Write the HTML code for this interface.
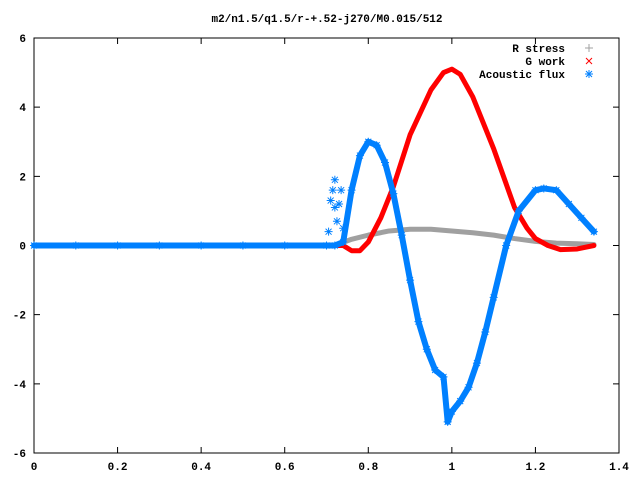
<!DOCTYPE html>
<html><head><meta charset="utf-8"><style>
body{margin:0;background:#fff}
svg{display:block;font-family:"Liberation Mono",monospace;font-size:11px;font-weight:bold}
</style></head><body>
<svg id="chart" width="640" height="480">
<text x="327" y="22" text-anchor="middle">m2/n1.5/q1.5/r-+.52-j270/M0.015/512</text>
<g id="axes"></g>
<g id="series"></g>
<g>
<text x="565" y="52" text-anchor="end">R stress</text>
<text x="565" y="65" text-anchor="end">G work</text>
<text x="565" y="78" text-anchor="end">Acoustic flux</text>
<path d="M589 44v8M585 48h8" stroke="#a0a0a0"/>
<path d="M586 58l6 6M592 58l-6 6" stroke="#f00"/>
<path d="M589 70v8M585 74h8M586 71l6 6M592 71l-6 6" stroke="#0080ff"/>
</g>
</svg>
<script>
const xTicks=[0,0.2,0.4,0.6,0.8,1,1.2,1.4];
const yTicks=[-6,-4,-2,0,2,4,6];
const rStressX=[0.72,0.76,0.8,0.85,0.9,0.95,1.0,1.05,1.1,1.15,1.2,1.25,1.3,1.34];
const rStressY=[0,0.18,0.3,0.42,0.47,0.47,0.42,0.37,0.3,0.2,0.12,0.07,0.05,0.03];
const gWorkX=[0.72,0.74,0.76,0.78,0.8,0.83,0.86,0.9,0.95,0.98,1.0,1.02,1.05,1.1,1.15,1.18,1.2,1.23,1.26,1.3,1.34];
const gWorkY=[0,0,-0.15,-0.15,0.1,0.8,1.7,3.2,4.5,5.0,5.1,4.95,4.3,2.8,1.1,0.5,0.2,0,-0.12,-0.1,0];
const fluxX=[0,0.1,0.2,0.3,0.4,0.5,0.6,0.7,0.72,0.74,0.76,0.78,0.8,0.82,0.84,0.86,0.88,0.9,0.92,0.94,0.96,0.98,0.99,1.0,1.02,1.04,1.06,1.08,1.1,1.13,1.16,1.2,1.22,1.25,1.28,1.31,1.34];
const fluxY=[0,0,0,0,0,0,0,0,0,0.1,1.6,2.6,3.0,2.9,2.4,1.5,0.3,-1.0,-2.2,-3.0,-3.6,-3.8,-5.1,-4.8,-4.5,-4.1,-3.4,-2.5,-1.5,0.0,1.0,1.6,1.65,1.6,1.2,0.8,0.4];
const fluxScatterX=[0.705,0.71,0.715,0.72,0.72,0.725,0.73,0.735,0.74];
const fluxScatterY=[0.4,1.3,1.6,1.9,1.1,0.7,1.2,1.6,0.5];
const X0=34,X1=619,Y0=453,Y1=38;
const sx=v=>X0+(v-0)/(1.4-0)*(X1-X0);
const sy=v=>Y0-(v+6)/12*(Y0-Y1);
const NS='http://www.w3.org/2000/svg';
function mk(tag,attrs,parent){const e=document.createElementNS(NS,tag);for(const k in attrs)e.setAttribute(k,attrs[k]);parent.appendChild(e);return e;}
const axes=document.getElementById('axes'),series=document.getElementById('series');
const frame=mk('rect',{x:X0,y:Y1,width:X1-X0,height:Y0-Y1,fill:'none',stroke:'#000'},axes);


xTicks.forEach(t=>{const x=sx(t);
const l=mk('path',{d:`M${x} ${Y0}v-6M${x} ${Y1}v6`,stroke:'#000'},axes);


const tx=mk('text',{x:x,y:Y0+17,'text-anchor':'middle'},axes);tx.textContent=t;

});
yTicks.forEach(t=>{const y=sy(t);
const l=mk('path',{d:`M${X0} ${y}h6M${X1} ${y}h-6`,stroke:'#000'},axes);


const tx=mk('text',{x:X0-8,y:y+4,'text-anchor':'end'},axes);tx.textContent=t;

});
function line(xs,ys,color,w,name){const d=xs.map((v,i)=>(i?'L':'M')+sx(v)+' '+sy(ys[i])).join('');
const p=mk('path',{d:d,fill:'none',stroke:color,'stroke-width':w,'stroke-linejoin':'round','stroke-linecap':'round'},series);

}
function star(x,y,color,name){const X=sx(x),Y=sy(y);
const p=mk('path',{d:`M${X} ${Y-4}v8M${X-4} ${Y}h8M${X-3} ${Y-3}l6 6M${X+3} ${Y-3}l-6 6`,stroke:color},series);

}
line(rStressX,rStressY,'#a0a0a0',5,'r-stress-series');
line(gWorkX,gWorkY,'#f00',5,'g-work-series');
line(fluxX,fluxY,'#0080ff',6,'acoustic-flux-series');
fluxX.forEach((v,i)=>star(v,fluxY[i],'#0080ff','acoustic-flux-point'));
fluxScatterX.forEach((v,i)=>star(v,fluxScatterY[i],'#0080ff','acoustic-flux-scatter-point'));
</script>
</body></html>
